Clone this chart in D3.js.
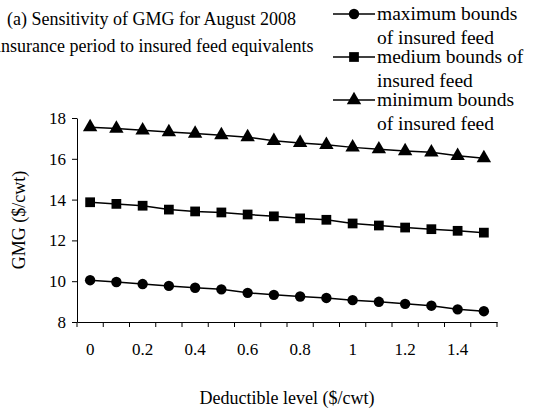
<!DOCTYPE html>
<html>
<head>
<meta charset="utf-8">
<script src="https://cdn.jsdelivr.net/npm/d3@7"></script>
<style>
  body { margin: 0; background: #fff; }
  svg text { font-family: "Liberation Serif", "Times New Roman", serif; fill: #000; }
</style>
</head>
<body>
<div id="chart"></div>
<script>
// deductible levels ($/cwt)
const deductible = ["0", "0.1", "0.2", "0.3", "0.4", "0.5", "0.6", "0.7", "0.8", "0.9", "1", "1.1", "1.2", "1.3", "1.4", "1.5"];
const xTickLabels = ["0", "0.2", "0.4", "0.6", "0.8", "1", "1.2", "1.4"];
const yTicks = [8, 10, 12, 14, 16, 18];

// GMG values ($/cwt)
const maxBounds = [10.05, 9.96, 9.86, 9.77, 9.68, 9.60, 9.43, 9.33, 9.25, 9.18, 9.07, 8.99, 8.89, 8.80, 8.62, 8.53];
const mediumBounds = [13.87, 13.79, 13.70, 13.51, 13.42, 13.37, 13.27, 13.18, 13.08, 13.01, 12.83, 12.73, 12.63, 12.55, 12.47, 12.38];
const minBounds = [17.55, 17.48, 17.40, 17.31, 17.24, 17.16, 17.06, 16.88, 16.78, 16.69, 16.56, 16.47, 16.38, 16.32, 16.15, 16.03];

const seriesNames = [
  ["maximum bounds", "of insured feed"],
  ["medium bounds of", "insured feed"],
  ["minimum bounds", "of insured feed"]
];
const seriesValues = [maxBounds, mediumBounds, minBounds];
const seriesSymbols = [d3.symbolCircle, d3.symbolSquare, d3.symbolTriangle];
const symbolSizes = [85, 95, 90];

const width = 547, height = 415;
const plot = {left: 77, right: 497, top: 118, bottom: 322};

const svg = d3.select("#chart")
  .append("svg")
    .attr("width", width)
    .attr("height", height);

const x = d3.scaleBand()
  .domain(deductible)
  .range([plot.left, plot.right])
  .padding(0);

const y = d3.scaleLinear()
  .domain([8, 18])
  .range([plot.bottom, plot.top]);

// y axis
const yAxis = svg.append("g")
  .attr("transform", `translate(${plot.left},0)`)
  .call(d3.axisLeft(y).tickValues(yTicks).tickSize(5).tickSizeOuter(0).tickPadding(6));
yAxis.selectAll("text").style("font-size", "17px");

// x axis: labels at category centres, tick marks between categories (excel style)
const xAxis = svg.append("g")
  .attr("transform", `translate(0,${plot.bottom})`)
  .call(d3.axisBottom(x).tickValues(xTickLabels).tickSize(0).tickSizeOuter(0).tickPadding(21));
xAxis.selectAll("text").style("font-size", "17px");

const boundaries = deductible.map(d => x(d)).concat([plot.right]);
xAxis.selectAll("line.cat-tick")
  .data(boundaries)
  .enter().append("line")
    .attr("class", "cat-tick")
    .attr("x1", d => d).attr("x2", d => d)
    .attr("y1", 0).attr("y2", 5)
    .attr("stroke", "#000");

svg.selectAll(".domain, .tick line").attr("stroke", "#000");

// series lines and markers
const line = d3.line()
  .x((d, i) => x(deductible[i]) + x.bandwidth() / 2)
  .y(d => y(d));

seriesValues.forEach((vals, s) => {
  svg.append("path")
    .datum(vals)
    .attr("fill", "none")
    .attr("stroke", "#000")
    .attr("stroke-width", 1.5)
    .attr("d", line);

  svg.append("g")
    .selectAll("path")
    .data(vals)
    .enter().append("path")
      .attr("d", d3.symbol().type(seriesSymbols[s]).size(symbolSizes[s]))
      .attr("transform", (d, i) => `translate(${x(deductible[i]) + x.bandwidth() / 2},${y(d)})`)
      .attr("fill", "#000");
});

// title, second line runs off the left edge like the original
svg.append("text").attr("x", 7).attr("y", 25).style("font-size", "18px")
  .text("(a) Sensitivity of GMG for August 2008");
svg.append("text").attr("x", -4).attr("y", 52).style("font-size", "18px")
  .text("insurance period to insured feed equivalents");

// legend
const legend = svg.append("g");
seriesNames.forEach((lines, s) => {
  const ly = 14 + s * 43;
  legend.append("line")
    .attr("x1", 333).attr("x2", 375)
    .attr("y1", ly).attr("y2", ly)
    .attr("stroke", "#000").attr("stroke-width", 1.5);
  legend.append("path")
    .attr("d", d3.symbol().type(seriesSymbols[s]).size(symbolSizes[s]))
    .attr("transform", `translate(354,${ly})`)
    .attr("fill", "#000");
  lines.forEach((t, k) => {
    legend.append("text")
      .attr("x", 377)
      .attr("y", ly + 6 + k * 24)
      .style("font-size", "19.5px")
      .text(t);
  });
});

// axis titles
svg.append("text")
  .attr("x", (plot.left + plot.right) / 2)
  .attr("y", 404)
  .attr("text-anchor", "middle")
  .style("font-size", "18px")
  .text("Deductible level ($/cwt)");

svg.append("text")
  .attr("transform", `translate(25,${(plot.top + plot.bottom) / 2}) rotate(-90)`)
  .attr("text-anchor", "middle")
  .style("font-size", "18px")
  .text("GMG ($/cwt)");
</script>
</body>
</html>
